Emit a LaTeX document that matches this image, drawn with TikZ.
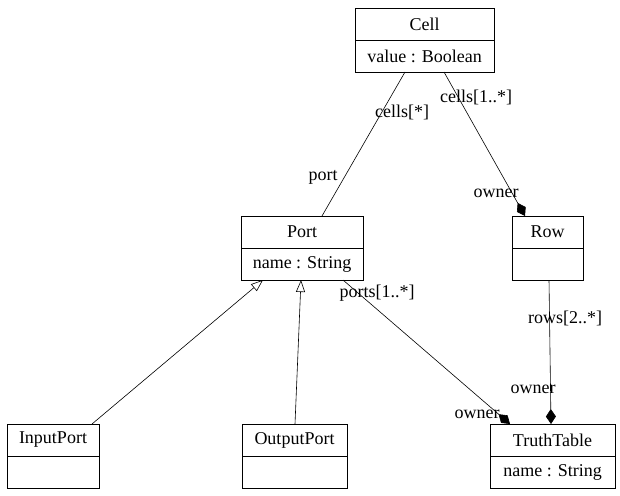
\documentclass[tikz,border=0pt]{standalone}
\usepackage{fontspec}
\setmainfont{Liberation Serif}
\usetikzlibrary{arrows.meta,calc}
\begin{document}
\begin{tikzpicture}[x=1pt,y=-1pt,
  comp/.style={draw,line width=0.8pt,minimum height=32pt,inner sep=0pt,outer sep=0pt,anchor=north west,font=\fontsize{18}{20}\selectfont},
  lbl/.style={font=\fontsize{18}{20}\selectfont,inner sep=0pt},
  conn/.style={line width=0.6pt},
  compo/.style={conn,-{Diamond[length=15pt,width=10pt]}},
  gener/.style={conn,-{Triangle[open,length=12pt,width=9pt]}}
]
\useasboundingbox (0,0) rectangle (620,495);
% classes
\node[comp,minimum width=139pt] (cellT) at (355,8) {Cell};
\node[comp,minimum width=139pt] (cellB) at (355,40) {value : Boolean};
\node[comp,minimum width=122pt] (portT) at (241,216) {Port};
\node[comp,minimum width=122pt] (portB) at (241,248) {name : String};
\node[comp,minimum width=71pt] (rowT) at (512,216) {Row};
\node[comp,minimum width=71pt] (rowB) at (512,248) {};
\node[comp,minimum width=92pt] (ipT) at (7,424) {InputPort};
\node[comp,minimum width=92pt] (ipB) at (7,456) {};
\node[comp,minimum width=105pt] (opT) at (242,424) {OutputPort};
\node[comp,minimum width=105pt] (opB) at (242,456) {};
\node[comp,minimum width=125pt] (ttT) at (490,424) {TruthTable};
\node[comp,minimum width=125pt] (ttB) at (490,456) {name : String};
% connectors
\draw[conn] ([xshift=-19.5pt]cellB.south) -- ([xshift=20pt]portT.north);
\draw[compo] ([xshift=19.5pt]cellB.south) -- ([xshift=-22.5pt]rowT.north);
\draw[compo] ([xshift=1.5pt]rowB.south) -- ([xshift=-1.5pt]ttT.north);
\draw[compo] ([xshift=41pt]portB.south) -- ([xshift=-42.5pt]ttT.north);
\draw[gener] ([xshift=39pt]ipT.north) -- ([xshift=-39pt]portB.south);
\draw[gener] ([xshift=0.5pt]opT.north) -- ([xshift=-1pt]portB.south);
% labels
\node[lbl] (l1) at (402,112) {cells[*]};
\node[lbl] (l2) at (323,177) {port};
\node[lbl] (l3) at (476,97) {cells[1..*]};
\node[lbl] (l4) at (496,193) {owner};
\node[lbl] (l5) at (565,318) {rows[2..*]};
\node[lbl] (l6) at (533,389) {owner};
\node[lbl] (l7) at (377,293) {ports[1..*]};
\node[lbl] (l8) at (477,414) {owner};
\end{tikzpicture}
\end{document}
